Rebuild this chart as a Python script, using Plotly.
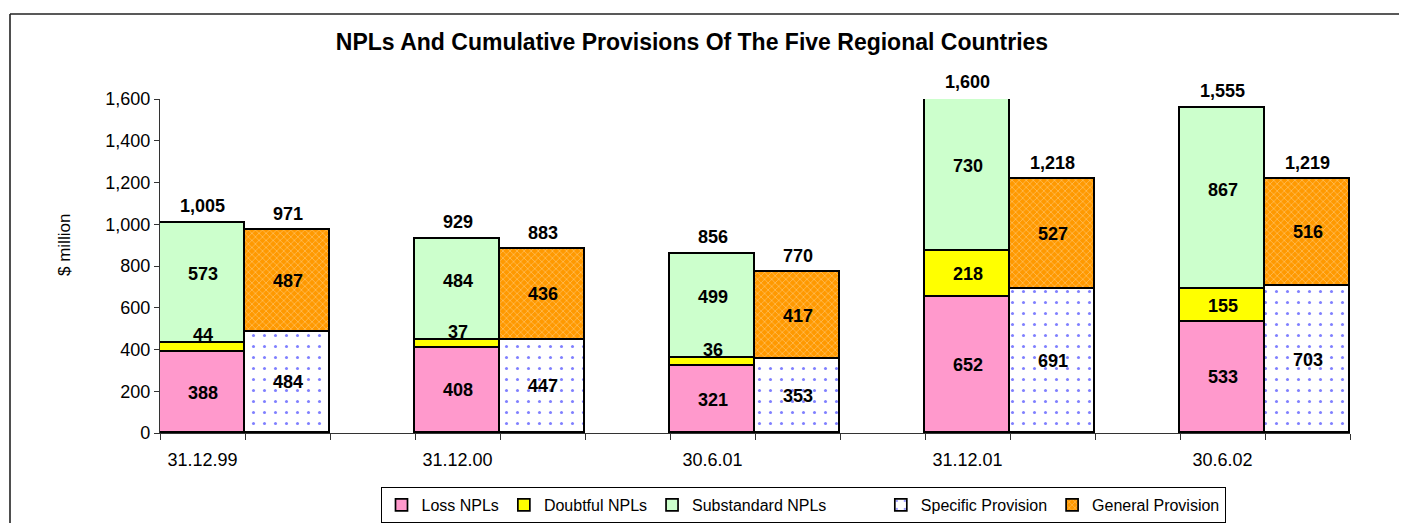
import plotly.graph_objects as go

# ---- data ----
categories = ["31.12.99", "31.12.00", "30.6.01", "31.12.01", "30.6.02"]
loss_npls = [388, 408, 321, 652, 533]
doubtful_npls = [44, 37, 36, 218, 155]
substandard_npls = [573, 484, 499, 730, 867]
specific_provision = [484, 447, 353, 691, 703]
general_provision = [487, 436, 417, 527, 516]
y_tick_values = [0, 200, 400, 600, 800, 1000, 1200, 1400, 1600]

# ---- layout helpers ----
n = len(categories)
npl_x = [3 * i for i in range(n)]
prov_x = [3 * i + 1 for i in range(n)]
FONT = "Liberation Sans, Arial, sans-serif"
OUTLINE = dict(color="black", width=1.7)

# figure is placed by the page at (8, 8); plot area spans page x 160..1350, y 99..433
FIG_W, FIG_H = 1399, 515
PA_W, PA_H = 1190, 334

fig = go.Figure()
fig.add_trace(go.Bar(x=npl_x, y=loss_npls, name="Loss NPLs", width=1,
                     marker=dict(color="#FF99CC", line=OUTLINE)))
fig.add_trace(go.Bar(x=npl_x, y=doubtful_npls, name="Doubtful NPLs", width=1,
                     marker=dict(color="#FFFF00", line=OUTLINE)))
fig.add_trace(go.Bar(x=npl_x, y=substandard_npls, name="Substandard NPLs", width=1,
                     marker=dict(color="#CCFFCC", line=OUTLINE)))
# blank legend spacer (the original legend has an empty entry here)
fig.add_trace(go.Scatter(x=[None], y=[None], name=" ", mode="markers",
                         marker=dict(color="rgba(0,0,0,0)", size=1),
                         hoverinfo="skip"))
fig.add_trace(go.Bar(x=prov_x, y=specific_provision, name="Specific Provision", width=1,
                     marker=dict(color="white", line=OUTLINE,
                                 pattern=dict(shape=".", fgcolor="#0000FF", bgcolor="white",
                                              size=11, solidity=0.06, fillmode="overlay"))))
fig.add_trace(go.Bar(x=prov_x, y=general_provision, name="General Provision", width=1,
                     marker=dict(color="#FF9900", line=OUTLINE,
                                 pattern=dict(shape="x", fgcolor="#FFE2B8", bgcolor="#FF9900",
                                              size=5, solidity=0.28, fillmode="overlay"))))

annotations = []
lab_font = dict(family=FONT, size=18, color="black", weight="bold")


def seg_label(x, base, v, shift):
    annotations.append(dict(x=x, y=base + v / 2, xref="x", yref="y", text=f"{v:,}",
                            showarrow=False, font=lab_font, yshift=shift))


for i in range(n):
    b = 0
    seg_label(npl_x[i], b, loss_npls[i], 0)
    b += loss_npls[i]
    seg_label(npl_x[i], b, doubtful_npls[i], 12 if doubtful_npls[i] < 60 else 0)
    b += doubtful_npls[i]
    seg_label(npl_x[i], b, substandard_npls[i], 9)
    b += substandard_npls[i]
    annotations.append(dict(x=npl_x[i], y=b, xref="x", yref="y", text=f"{b:,}",
                            showarrow=False, font=lab_font, yshift=17))
    b = 0
    seg_label(prov_x[i], b, specific_provision[i], 0)
    b += specific_provision[i]
    seg_label(prov_x[i], b, general_provision[i], 0)
    b += general_provision[i]
    annotations.append(dict(x=prov_x[i], y=b, xref="x", yref="y", text=f"{b:,}",
                            showarrow=False, font=lab_font, yshift=16))

# y-axis title
annotations.append(dict(x=(64 - 160) / PA_W, y=(433 - 245) / PA_H, xref="paper", yref="paper",
                        xanchor="center", yanchor="middle",
                        text="$ million", textangle=-90, showarrow=False,
                        font=dict(family=FONT, size=17, color="black")))

border = dict(color="#222222", width=1.6)
left_x = (10 - 160) / PA_W
top_y = (433 - 14) / PA_H

fig.update_layout(
    width=FIG_W, height=FIG_H,
    margin=dict(l=152, r=57, t=91, b=90, autoexpand=False),
    paper_bgcolor="white", plot_bgcolor="white",
    barmode="stack", bargap=0,
    font=dict(family=FONT, size=18, color="black"),
    title=dict(text="NPLs And Cumulative Provisions Of The Five Regional Countries",
               x=684 / FIG_W, xanchor="center", xref="container",
               y=1 - 34 / FIG_H, yanchor="middle", yref="container",
               font=dict(family=FONT, size=23, color="black", weight="bold")),
    xaxis=dict(range=[-0.5, 3 * n - 1.5], tickmode="array", tickvals=npl_x,
               ticktext=categories, ticks="", showgrid=False, zeroline=False,
               showline=True, linecolor="#333333", linewidth=1.3,
               ticklabelstandoff=10, tickfont=dict(family=FONT, size=18),
               minor=dict(tickmode="array",
                          tickvals=[k - 0.5 for k in range(3 * n)],
                          ticks="outside", ticklen=6, tickcolor="#333333",
                          tickwidth=1.3, showgrid=False)),
    yaxis=dict(range=[0, 1600], tickvals=y_tick_values, tickformat=",d",
               ticks="outside", ticklen=5, tickcolor="#333333", tickwidth=1.3,
               showline=True, linecolor="#333333", linewidth=1.3,
               showgrid=False, zeroline=False, tickfont=dict(family=FONT, size=18)),
    legend=dict(orientation="h", xref="container", yref="container",
                x=795 / FIG_W, xanchor="center",
                y=1 - 479 / FIG_H, yanchor="top", bgcolor="white",
                bordercolor="black", borderwidth=1, itemwidth=30,
                font=dict(family=FONT, size=16, color="black"),
                traceorder="normal"),
    annotations=annotations,
    shapes=[
        dict(type="line", xref="paper", yref="paper", x0=left_x, x1=1.1,
             y0=top_y, y1=top_y, line=border, layer="below"),
        dict(type="line", xref="paper", yref="paper", x0=left_x, x1=left_x,
             y0=top_y, y1=-0.3, line=border, layer="below"),
    ],
)

fig.write_html("out.html",
               post_script="document.documentElement.style.overflow='hidden';")
